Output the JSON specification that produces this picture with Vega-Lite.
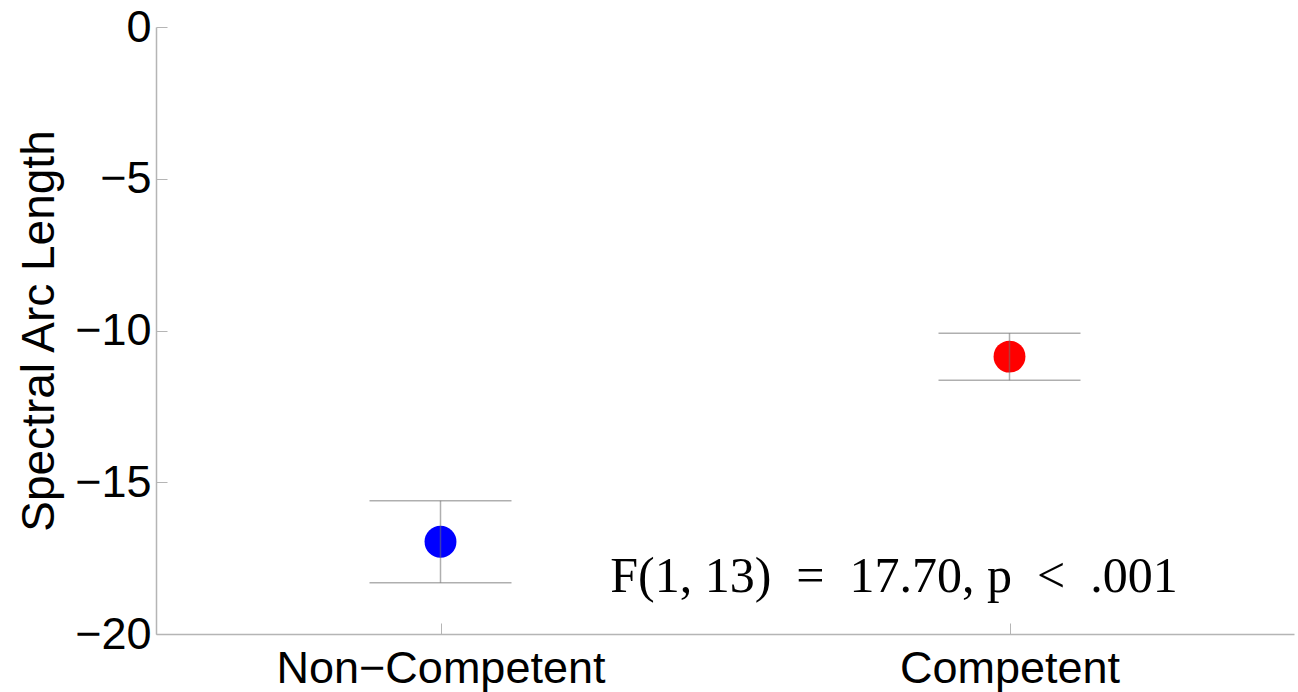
{
  "$schema": "https://vega.github.io/schema/vega-lite/v6.json",
  "autosize": {"type": "none"},
  "padding": {"left": 156, "top": 27, "right": 4, "bottom": 58},
  "width": 1138,
  "height": 607,
  "background": "white",
  "config": {
    "view": {"stroke": null},
    "axis": {
      "grid": false,
      "domainColor": "#b5b5b5",
      "domainWidth": 1.5,
      "tickColor": "#b5b5b5",
      "tickWidth": 1,
      "labelFont": "Liberation Sans",
      "labelFontSize": 45,
      "labelColor": "black",
      "labelLimit": 0,
      "titleFont": "Liberation Sans",
      "titleFontSize": 46,
      "titleFontWeight": "normal",
      "titleColor": "black"
    }
  },
  "datasets": {
    "groups": [
      {"group": "Non−Competent", "mean": -16.96, "lower": -18.31, "upper": -15.61},
      {"group": "Competent", "mean": -10.86, "lower": -11.64, "upper": -10.09}
    ],
    "note": [
      {"label": "F(1, 13)\u2002=\u200217.70, p\u2002<\u2002.001", "xpos": 1.797, "ypos": -18.12}
    ]
  },
  "layer": [
    {
      "data": {"name": "groups"},
      "layer": [
        {
          "mark": {"type": "point", "filled": true, "size": 1018, "opacity": 1},
          "encoding": {
            "x": {"field": "group", "type": "nominal", "sort": ["Non−Competent", "Competent"],
                  "scale": {"type": "point", "padding": 0.5},
                  "axis": {"title": null, "labelAngle": 0, "tickSize": -11, "labelPadding": 23, "domainWidth": 1.5}},
            "y": {"field": "mean", "type": "quantitative", "scale": {"domain": [-20, 0], "nice": false, "zero": false},
                  "axis": {"title": "Spectral Arc Length", "values": [-20, -15, -10, -5, 0], "tickSize": -11, "labelPadding": 16, "titlePadding": 11}},
            "color": {"field": "group", "type": "nominal", "scale": {"domain": ["Non−Competent", "Competent"], "range": ["#0000ff", "#ff0000"]}, "legend": null}
          }
        },
        {
          "mark": {"type": "rule", "color": "#6e6e6e", "opacity": 0.55, "strokeWidth": 1.5},
          "encoding": {
            "x": {"field": "group", "type": "nominal", "sort": ["Non−Competent", "Competent"]},
            "y": {"field": "lower", "type": "quantitative"},
            "y2": {"field": "upper"}
          }
        },
        {
          "mark": {"type": "tick", "orient": "horizontal", "size": 142, "thickness": 1.5, "color": "#6e6e6e", "opacity": 0.55},
          "encoding": {
            "x": {"field": "group", "type": "nominal", "sort": ["Non−Competent", "Competent"]},
            "y": {"field": "lower", "type": "quantitative"}
          }
        },
        {
          "mark": {"type": "tick", "orient": "horizontal", "size": 142, "thickness": 1.5, "color": "#6e6e6e", "opacity": 0.55},
          "encoding": {
            "x": {"field": "group", "type": "nominal", "sort": ["Non−Competent", "Competent"]},
            "y": {"field": "upper", "type": "quantitative"}
          }
        }
      ]
    },
    {
      "data": {"name": "note"},
      "mark": {"type": "text", "font": "Liberation Serif", "fontSize": 50, "align": "center", "baseline": "middle", "color": "black"},
      "encoding": {
        "x": {"field": "xpos", "type": "quantitative", "scale": {"domain": [0.5, 2.5]}, "axis": null},
        "y": {"field": "ypos", "type": "quantitative"},
        "text": {"field": "label"}
      }
    }
  ],
  "resolve": {"scale": {"x": "independent"}, "axis": {"x": "independent"}}
}
